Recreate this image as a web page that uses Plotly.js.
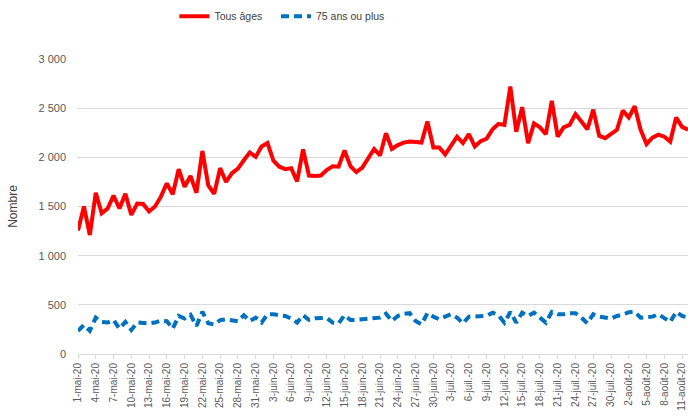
<!DOCTYPE html>
<html>
<head>
<meta charset="utf-8">
<script src="https://cdn.plot.ly/plotly-3.0.1.min.js"></script>
<style>
  html, body { margin: 0; padding: 0; background: #fff; }
  #graph { width: 688px; height: 417px; }
</style>
</head>
<body>
<div id="graph"></div>
<script>
/* jours : du 1-mai-20 au 12-août-20 */
var moisNoms = ['mai', 'juin', 'juil.', 'août'];
var moisJours = [31, 30, 31, 12];

/* Tous âges */
var tousAges = [1255,1500,1210,1640,1430,1480,1610,1480,1630,1415,
  1530,1525,1450,1500,1600,1735,1625,1880,1700,1810,
  1640,2065,1715,1630,1890,1750,1840,1885,1970,2050,
  2005,2110,2145,1965,1905,1880,1890,1755,2080,1815,
  1810,1815,1870,1910,1905,2070,1910,1850,1895,1990,
  2085,2020,2245,2085,2125,2150,2160,2155,2150,2365,
  2100,2100,2030,2120,2210,2145,2235,2110,2165,2190,
  2285,2340,2330,2720,2260,2510,2145,2345,2305,2235,
  2575,2210,2305,2330,2440,2365,2285,2485,2220,2195,
  2235,2280,2475,2405,2520,2280,2135,2200,2230,2210,
  2160,2405,2310,2280];

/* 75 ans ou plus */
var plus75 = [235,295,235,370,325,320,345,258,326,245,
  320,313,312,320,340,333,258,387,360,398,
  285,430,312,300,345,353,345,333,394,336,
  370,320,405,405,394,387,360,320,394,347,
  363,370,367,320,312,394,347,347,353,363,
  370,370,410,336,387,408,415,336,302,415,
  380,353,380,404,370,312,380,380,380,387,
  420,394,319,428,319,420,387,420,370,319,
  428,404,404,415,415,370,312,404,380,370,
  360,387,400,425,428,370,380,380,404,370,
  326,428,387,370];

var yTicks = [0, 500, 1000, 1500, 2000, 2500, 3000];
var yTickText = ['0', '500', '1 000', '1 500', '2 000', '2 500', '3 000'];

var jours = [];
for (var m = 0; m < moisNoms.length; m++) {
  for (var d = 1; d <= moisJours[m]; d++) {
    jours.push(d + '-' + moisNoms[m] + '-20');
  }
}
var joursTicks = jours.filter(function (j, i) { return i % 3 === 0; });

var grey = '#595959';
var pad = '\u00a0\u00a0\u00a0';  // espace après "Tous âges" dans la légende

var trace1 = {
  x: jours,
  y: tousAges,
  name: 'Tous âges' + pad,
  type: 'scatter',
  mode: 'lines',
  line: { color: '#FF0000', width: 4 }
};

var trace2 = {
  x: jours,
  y: plus75,
  name: '75 ans ou plus',
  type: 'scatter',
  mode: 'lines',
  line: { color: '#0070C0', width: 4, dash: '8px,5px' }
};

var layout = {
  width: 688,
  height: 417,
  margin: { l: 78, r: 0, t: 59, b: 63 },
  paper_bgcolor: '#fff',
  plot_bgcolor: '#fff',
  font: { family: 'Liberation Sans, Arial, sans-serif', size: 10, color: grey },
  showlegend: true,
  legend: {
    orientation: 'h',
    x: 0.158, xanchor: 'left',
    y: 1.145, yanchor: 'middle',
    font: { family: 'Liberation Sans Narrow, Liberation Sans, Arial, sans-serif', size: 10.5, color: '#404040' }
  },
  xaxis: {
    type: 'category',
    range: [0, jours.length - 1],
    tickmode: 'array',
    tickvals: joursTicks,
    ticktext: joursTicks,
    tickangle: -90,
    ticks: 'outside',
    ticklen: 4,
    tickcolor: '#d9d9d9',
    showgrid: false,
    showline: true,
    linecolor: '#d9d9d9',
    zeroline: false,
    tickfont: { size: 10, color: grey }
  },
  yaxis: {
    range: [0, 3000],
    tickmode: 'array',
    tickvals: yTicks,
    ticktext: yTickText,
    showgrid: true,
    gridcolor: '#d9d9d9',
    zeroline: false,
    showline: false,
    ticks: '',
    ticklabelstandoff: 11,
    tickfont: { size: 11, color: grey },
    title: { text: 'Nombre', font: { size: 12, color: '#404040' }, standoff: 18 }
  }
};

Plotly.newPlot('graph', [trace1, trace2], layout, { displayModeBar: false, staticPlot: true });
</script>
</body>
</html>
